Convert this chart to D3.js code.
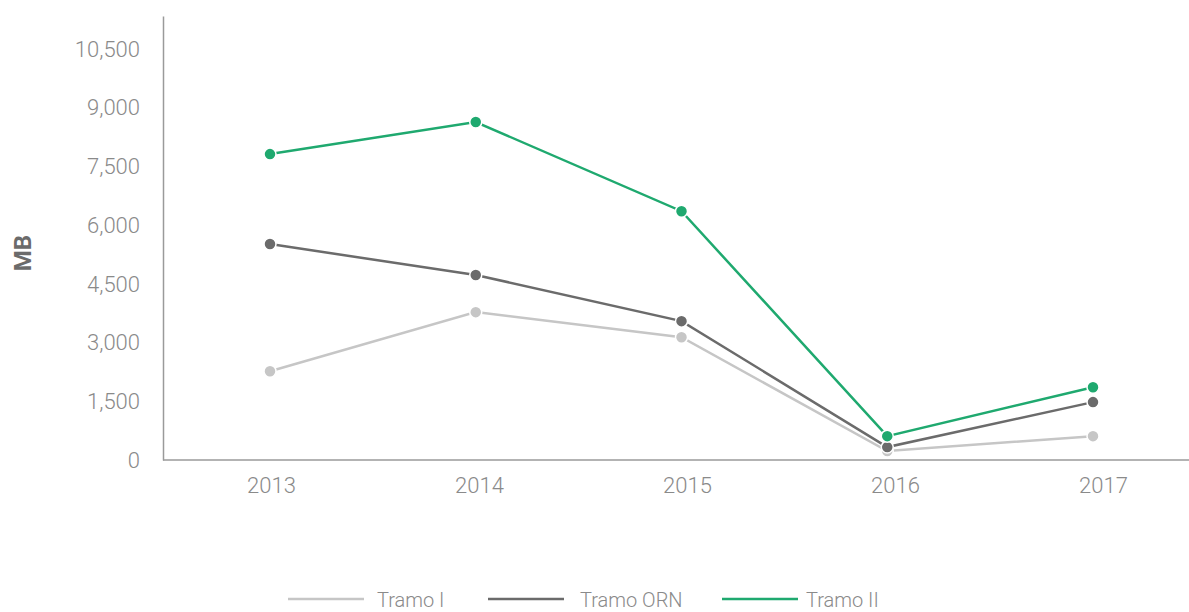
<!DOCTYPE html>
<html>
<head>
<meta charset="utf-8">
<script src="https://cdn.jsdelivr.net/npm/d3@7"></script>
<style>
  body { margin: 0; background: #fff; }
  text { font-family: "Helvetica Neue", Roboto, "Liberation Sans", sans-serif; }
</style>
</head>
<body>
<svg width="1189" height="612"></svg>
<script>
// data
const years = ["2013", "2014", "2015", "2016", "2017"];
const tramoI = [2270, 3780, 3140, 230, 610];
const tramoORN = [5520, 4730, 3550, 330, 1480];
const tramoII = [7820, 8640, 6360, 610, 1860];
const yTicks = [0, 1500, 3000, 4500, 6000, 7500, 9000, 10500];

const series = [
  { name: "Tramo I", values: tramoI, color: "#c6c6c6" },
  { name: "Tramo ORN", values: tramoORN, color: "#6b6b6b" },
  { name: "Tramo II", values: tramoII, color: "#1fa96f" },
];

const svg = d3.select("svg");
const plotLeft = 163, plotRight = 1189, plotTop = 16, plotBottom = 460;

// points and the year labels don't quite line up in the original
const x = d3.scalePoint().domain(years).range([270, 1093]);
const xLabels = d3.scalePoint().domain(years).range([271, 1103]);
const y = d3.scaleLinear().domain([0, 11350]).range([plotBottom, plotTop]);

// y axis
const yAxis = svg.append("g")
  .attr("transform", `translate(${plotLeft},0)`)
  .call(d3.axisLeft(y).tickValues(yTicks).tickSize(0).tickPadding(23).tickFormat(d3.format(",")));
yAxis.select(".domain").attr("stroke", "#9a9a9a").attr("stroke-width", 1.5);
yAxis.selectAll("text").attr("fill", "#8a8a8a").style("font-size", "22px").style("font-weight", 300);

// x axis
const xAxis = svg.append("g")
  .attr("transform", `translate(0,${plotBottom})`)
  .call(d3.axisBottom(xLabels).tickSize(0).tickPadding(17));
xAxis.select(".domain").attr("d", `M${plotLeft},0H${plotRight}`).attr("stroke", "#9a9a9a").attr("stroke-width", 1.5);
xAxis.selectAll("text").attr("fill", "#8a8a8a").style("font-size", "22px").style("font-weight", 300);

// axis title
svg.append("text")
  .attr("transform", "translate(31,253) rotate(-90)")
  .attr("text-anchor", "middle")
  .attr("fill", "#6b6b6b")
  .style("font-size", "24px")
  .style("font-weight", "bold")
  .text("MB");

const line = d3.line()
  .x((d, i) => x(years[i]))
  .y(d => y(d));

series.forEach(s => {
  svg.append("path")
    .datum(s.values)
    .attr("fill", "none")
    .attr("stroke", s.color)
    .attr("stroke-width", 2.5)
    .attr("d", line);

  svg.selectAll(null)
    .data(s.values)
    .enter()
    .append("circle")
    .attr("cx", (d, i) => x(years[i]))
    .attr("cy", d => y(d))
    .attr("r", 6)
    .attr("fill", s.color)
    .attr("stroke", "#fff")
    .attr("stroke-width", 1.5);
});

// legend
const legendLineX = [288, 488, 722];
const legendTextX = [377, 580, 806];
const legend = svg.append("g");
series.forEach((s, i) => {
  legend.append("line")
    .attr("x1", legendLineX[i]).attr("x2", legendLineX[i] + 76)
    .attr("y1", 599).attr("y2", 599)
    .attr("stroke", s.color)
    .attr("stroke-width", 2.5);
  legend.append("text")
    .attr("x", legendTextX[i])
    .attr("y", 607)
    .attr("fill", "#8a8a8a")
    .style("font-size", "20px")
    .style("font-weight", 300)
    .text(s.name);
});
</script>
</body>
</html>
